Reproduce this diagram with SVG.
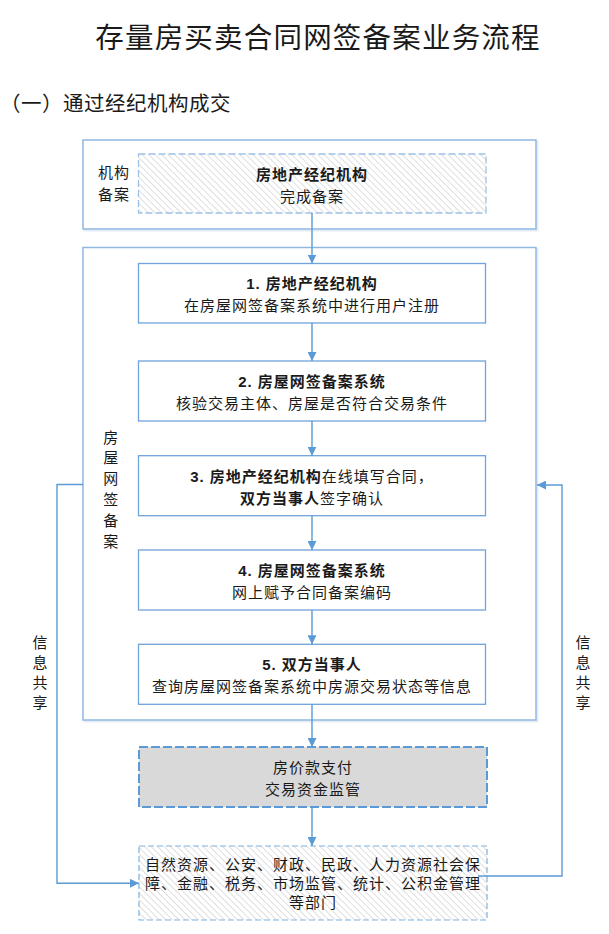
<svg xmlns="http://www.w3.org/2000/svg" width="609" height="934" viewBox="0 0 609 934">
<style>
text{font-family:"Liberation Sans","Noto Sans CJK SC",sans-serif;fill:#1a1a1a;}
.t{font-size:15px;letter-spacing:1px;text-anchor:middle;}
.b{font-weight:bold;}
.lbl{font-size:15px;text-anchor:middle;}
.outer{fill:#fff;stroke:#8fb8e3;stroke-width:1.5;}
.shadow{fill:none;stroke:#e6ecf3;stroke-width:2;}
.box{fill:#fff;stroke:#6fa3da;stroke-width:1.3;}
.conn{fill:none;stroke:#5b9bd5;stroke-width:1.4;}
</style>
<defs>
<pattern id="hatch" width="4.6" height="4.6" patternUnits="userSpaceOnUse" patternTransform="rotate(-45)">
<line x1="0" y1="0" x2="0" y2="4.6" stroke="#bfbfbf" stroke-width="1"/>
</pattern>
<marker id="arr" markerWidth="10" markerHeight="9" refX="9" refY="4.5" orient="auto" markerUnits="userSpaceOnUse">
<path d="M0,0 L9,4.5 L0,9 Z" fill="#5b9bd5"/>
</marker>
</defs>

<text x="318" y="47.5" style="font-size:28.5px;letter-spacing:1.2px;text-anchor:middle;">存量房买卖合同网签备案业务流程</text>
<text x="0" y="111" style="font-size:20.5px;letter-spacing:0.5px;">（一）通过经纪机构成交</text>

<g id="org-filing">
<rect class="shadow" x="84.5" y="141.5" width="453" height="89"/>
<rect class="outer" x="83" y="140" width="453" height="89"/>
<text class="lbl" x="114" y="178" style="letter-spacing:1px">机构</text>
<text class="lbl" x="114" y="200" style="letter-spacing:1px">备案</text>
</g>
<g id="agency-done">
<rect x="138.5" y="154" width="347.5" height="59" fill="url(#hatch)" stroke="#9cc1e6" stroke-width="1.3" stroke-dasharray="7,3"/>
<text class="t b" x="312" y="180">房地产经纪机构</text>
<text class="t" x="312" y="202">完成备案</text>
</g>

<g id="online-signing">
<rect class="shadow" x="84.5" y="249" width="453" height="472.5"/>
<rect class="outer" x="83" y="247.5" width="453" height="472.5"/>
<text class="lbl" x="110.7" y="442.5">房</text>
<text class="lbl" x="110.7" y="463.3">屋</text>
<text class="lbl" x="110.7" y="484.1">网</text>
<text class="lbl" x="110.7" y="504.9">签</text>
<text class="lbl" x="110.7" y="525.7">备</text>
<text class="lbl" x="110.7" y="546.5">案</text>
</g>

<g id="step1">
<rect class="box" x="138.5" y="263.5" width="347" height="59.5"/>
<text class="t b" x="312" y="289">1. 房地产经纪机构</text>
<text class="t" x="312" y="311">在房屋网签备案系统中进行用户注册</text>
</g>
<g id="step2">
<rect class="box" x="138.5" y="361" width="347" height="60"/>
<text class="t b" x="312" y="387">2. 房屋网签备案系统</text>
<text class="t" x="312" y="409">核验交易主体、房屋是否符合交易条件</text>
</g>
<g id="step3">
<rect class="box" x="138.5" y="455.7" width="347" height="60"/>
<text class="t" x="312" y="481.7"><tspan class="b">3. 房地产经纪机构</tspan>在线填写合同，</text>
<text class="t" x="312" y="503.7"><tspan class="b">双方当事人</tspan>签字确认</text>
</g>
<g id="step4">
<rect class="box" x="138.5" y="550" width="347" height="60"/>
<text class="t b" x="312" y="576">4. 房屋网签备案系统</text>
<text class="t" x="312" y="598">网上赋予合同备案编码</text>
</g>
<g id="step5">
<rect class="box" x="138.5" y="644.3" width="347" height="60"/>
<text class="t b" x="312" y="670.3">5. 双方当事人</text>
<text class="t" x="312" y="692.3">查询房屋网签备案系统中房源交易状态等信息</text>
</g>

<g id="payment">
<rect x="139" y="747" width="348" height="60" fill="#d9d9d9" stroke="#5b9bd5" stroke-width="2" stroke-dasharray="9,3"/>
<text class="t" x="313" y="773">房价款支付</text>
<text class="t" x="313" y="795">交易资金监管</text>
</g>

<g id="departments">
<rect x="139" y="846" width="348" height="74" fill="url(#hatch)" stroke="#7eb1e0" stroke-width="1.2" stroke-dasharray="6,3"/>
<text class="t" x="313" y="869.5">自然资源、公安、财政、民政、人力资源社会保</text>
<text class="t" x="313" y="888.5">障、金融、税务、市场监管、统计、公积金管理</text>
<text class="t" x="313" y="907.5">等部门</text>
</g>

<g id="info-left">
<text class="lbl" x="40" y="648">信</text>
<text class="lbl" x="40" y="668">息</text>
<text class="lbl" x="40" y="688">共</text>
<text class="lbl" x="40" y="708">享</text>
</g>
<g id="info-right">
<text class="lbl" x="583" y="648">信</text>
<text class="lbl" x="583" y="668">息</text>
<text class="lbl" x="583" y="688">共</text>
<text class="lbl" x="583" y="708">享</text>
</g>

<g id="connectors">
<line class="conn" x1="312" y1="213" x2="312" y2="263.5" marker-end="url(#arr)"/>
<line class="conn" x1="312" y1="323" x2="312" y2="361" marker-end="url(#arr)"/>
<line class="conn" x1="312" y1="421" x2="312" y2="455.7" marker-end="url(#arr)"/>
<line class="conn" x1="312" y1="515.7" x2="312" y2="550" marker-end="url(#arr)"/>
<line class="conn" x1="312" y1="610" x2="312" y2="644.3" marker-end="url(#arr)"/>
<line class="conn" x1="312" y1="704.3" x2="312" y2="747" marker-end="url(#arr)"/>
<line class="conn" x1="312" y1="807" x2="312" y2="846" marker-end="url(#arr)"/>
<polyline class="conn" points="83,484.5 57,484.5 57,883.3 139,883.3" marker-end="url(#arr)"/>
<polyline class="conn" points="478,876 562,876 562,485 537,485" marker-end="url(#arr)"/>
</g>
</svg>
